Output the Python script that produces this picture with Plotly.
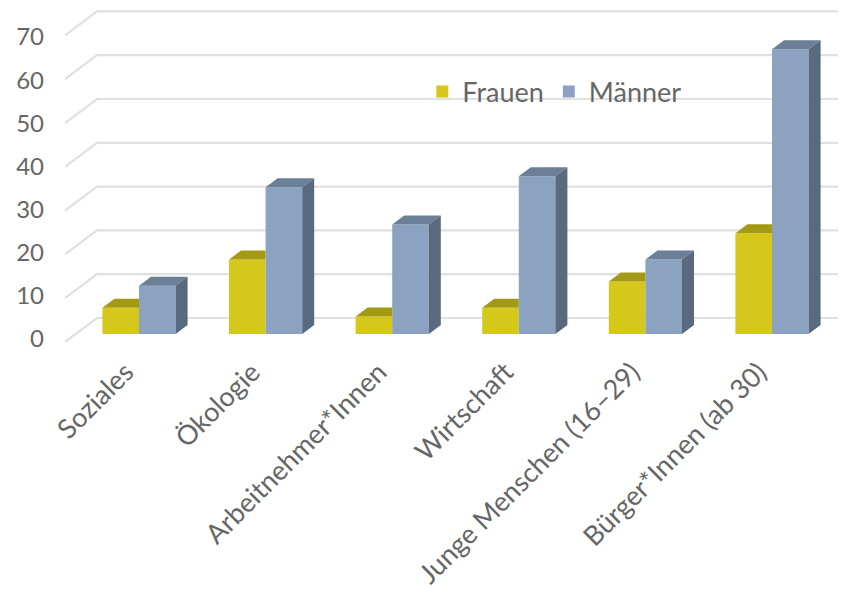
import plotly.graph_objects as go

categories = ["Soziales", "Ökologie", "Arbeitnehmer*Innen", "Wirtschaft",
              "Junge Menschen (16–29)", "Bürger*Innen (ab 30)"]
frauen = [6, 17, 4, 6, 12, 23]
maenner = [11, 33.5, 25, 36, 17, 65]
y_ticks = [0, 10, 20, 30, 40, 50, 60, 70]

# pixel metrics of the pseudo-3D frame, expressed in axis units
PX_X = 126.6
PX_Y = 4.38
FLOOR_DX = 32 / PX_X
FLOOR_DY = 24 / PX_Y
DEPTH_X = 12 / PX_X
DEPTH_Y = 9 / PX_Y
BASE = 8 / PX_Y
BAR_W = 36.6 / PX_X
SHIFT = 10.7 / PX_X
XMIN, XMAX = -0.5, 5.669

COL_F, COL_F_TOP = "#D6C81A", "#A39A14"
COL_M, COL_M_TOP, COL_M_SIDE = "#8BA3C0", "#6C7F98", "#5A6A7E"
TEXT = "#666666"
GRID = "#E0E0E0"
FONT = "Lato"

fig = go.Figure()

# back wall + side wall grid, under the bars
for t in y_ticks:
    fig.add_shape(type="path", xref="x", yref="y", layer="below",
                  path=f"M {XMIN} {t} L {XMIN + FLOOR_DX} {t + FLOOR_DY} L {XMAX + FLOOR_DX} {t + FLOOR_DY}",
                  line=dict(color=GRID, width=2.2))

xs = list(range(len(categories)))
fig.add_trace(go.Bar(x=xs, y=frauen, base=BASE, name="Frauen", width=BAR_W,
                     offset=SHIFT - BAR_W, marker=dict(color=COL_F, line_width=0)))
fig.add_trace(go.Bar(x=xs, y=maenner, base=BASE, name="Männer", width=BAR_W,
                     offset=SHIFT, marker=dict(color=COL_M, line_width=0)))

def faces(kind):
    px, py = [], []
    for i, (f, m) in enumerate(zip(frauen, maenner)):
        c = i + SHIFT
        if kind == "f_top":
            l, r, v = c - BAR_W, c, f + BASE
            px += [l, l + DEPTH_X, r, r, None]
            py += [v, v + DEPTH_Y, v + DEPTH_Y, v, None]
        elif kind == "m_top":
            l, r, v = c, c + BAR_W, m + BASE
            px += [l, l + DEPTH_X, r + DEPTH_X, r, None]
            py += [v, v + DEPTH_Y, v + DEPTH_Y, v, None]
        else:
            r, v = c + BAR_W, m + BASE
            px += [r, r + DEPTH_X, r + DEPTH_X, r, None]
            py += [BASE, BASE + DEPTH_Y, v + DEPTH_Y, v, None]
    return px, py

for kind, col in (("f_top", COL_F_TOP), ("m_top", COL_M_TOP), ("m_side", COL_M_SIDE)):
    px, py = faces(kind)
    fig.add_trace(go.Scatter(x=px, y=py, mode="lines", fill="toself", fillcolor=col,
                             line=dict(width=0, color=col), hoverinfo="skip", showlegend=False))

fig.update_layout(
    width=838, height=582, autosize=False,
    margin=dict(l=57, r=0, t=1, b=248),
    paper_bgcolor="white", plot_bgcolor="white",
    barmode="overlay",
    font=dict(family=FONT, color=TEXT, size=24),
    legend=dict(orientation="h", x=0.4575, y=0.751, xanchor="left", yanchor="middle",
                bgcolor="rgba(0,0,0,0)", font=dict(size=27, family=FONT, color=TEXT),
                itemsizing="constant", traceorder="normal"),
    xaxis=dict(range=[XMIN, XMAX], tickmode="array", tickvals=[x - 0.02 for x in xs],
               ticktext=categories, tickangle=-45, showgrid=False, zeroline=False,
               showline=False, ticks="", ticklabelstandoff=8, automargin=False,
               tickfont=dict(size=27, family=FONT, color=TEXT)),
    yaxis=dict(range=[0, 76.03], tickmode="array",
               tickvals=[t * 302 / 306.6 + 0.68 for t in y_ticks],
               ticktext=[str(t) for t in y_ticks],
               showgrid=False, zeroline=False, showline=False, ticks="",
               ticklabelstandoff=20, automargin=False,
               tickfont=dict(size=24, family=FONT, color=TEXT)),
)

fig.write_html("out.html")
